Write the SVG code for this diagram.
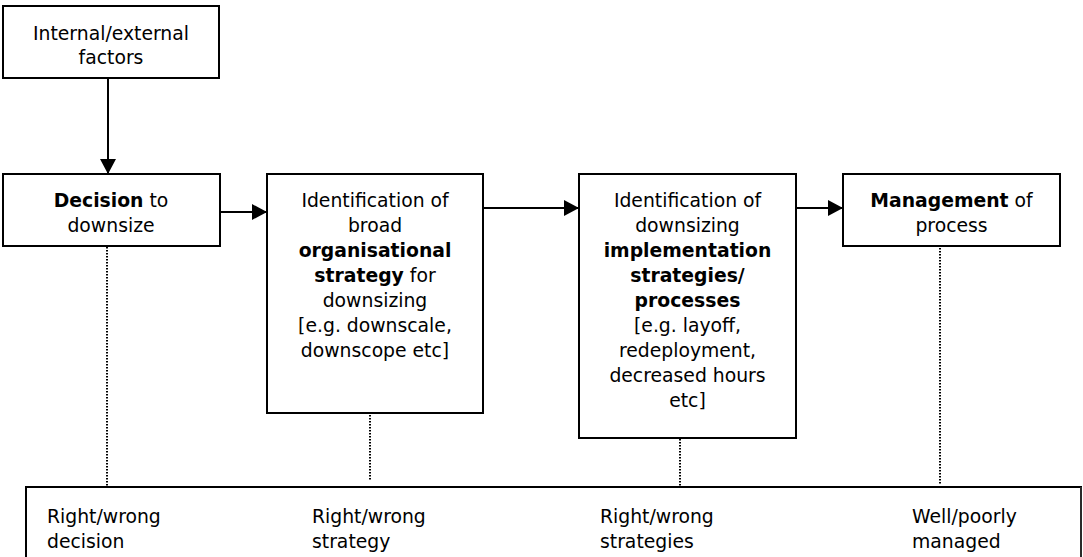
<svg xmlns="http://www.w3.org/2000/svg" width="1083" height="557" viewBox="0 0 1083 557">
  <style>
    .box { fill: #ffffff; stroke: #000000; stroke-width: 2; }
    .txt { font-family: Tahoma, "DejaVu Sans", sans-serif; font-size: 18.8px; fill: #000000; }
    .c { text-anchor: middle; }
    .b { font-weight: bold; }
    .link { stroke: #000000; stroke-width: 2; fill: none; }
    .dot { stroke: #000000; stroke-width: 2; stroke-dasharray: 1.5 1.5; fill: none; }
  </style>
  <defs>
    <marker id="arrow" viewBox="0 0 15 16" refX="15" refY="8" markerWidth="15" markerHeight="16" markerUnits="userSpaceOnUse" orient="auto">
      <path d="M0,0 L15,8 L0,16 Z" fill="#000000"/>
    </marker>
  </defs>

  <rect width="1083" height="557" fill="#ffffff"/>

  <!-- outcome band along the bottom -->
  <g id="outcomes">
    <path d="M26,557 V487 H1081 V557" fill="#ffffff" stroke="#000000" stroke-width="2"/>
    <line x1="1081" y1="487" x2="1081" y2="557" stroke="#555555" stroke-width="1"/>
    <text class="txt" x="47" y="523">Right/wrong</text>
    <text class="txt" x="47" y="548">decision</text>
    <text class="txt" x="312" y="523">Right/wrong</text>
    <text class="txt" x="312" y="548">strategy</text>
    <text class="txt" x="600" y="523">Right/wrong</text>
    <text class="txt" x="600" y="548">strategies</text>
    <text class="txt" x="912" y="523">Well/poorly</text>
    <text class="txt" x="912" y="548">managed</text>
  </g>

  <!-- connectors -->
  <g id="connectors">
    <line class="link" x1="108" y1="78" x2="108" y2="174" marker-end="url(#arrow)"/>
    <line class="link" x1="220" y1="212" x2="267" y2="212" marker-end="url(#arrow)"/>
    <line class="link" x1="483" y1="208" x2="579" y2="208" marker-end="url(#arrow)"/>
    <line class="link" x1="796" y1="208" x2="843" y2="208" marker-end="url(#arrow)"/>
    <line class="dot" x1="107" y1="247" x2="107" y2="486"/>
    <line class="dot" x1="370" y1="415" x2="370" y2="481"/>
    <line class="dot" x1="680" y1="439" x2="680" y2="486"/>
    <line class="dot" x1="940" y1="248" x2="940" y2="484"/>
  </g>

  <g id="factors">
    <rect class="box" x="3" y="6" width="216" height="72"/>
    <text class="txt c" x="111" y="40">Internal/external</text>
    <text class="txt c" x="111" y="64">factors</text>
  </g>

  <g id="decision">
    <rect class="box" x="3" y="174" width="217" height="72"/>
    <text class="txt c" x="111" y="207"><tspan class="b">Decision</tspan> to</text>
    <text class="txt c" x="111" y="232">downsize</text>
  </g>

  <g id="org-strategy">
    <rect class="box" x="267" y="174" width="216" height="239"/>
    <text class="txt c" x="375" y="207">Identification of</text>
    <text class="txt c" x="375" y="232">broad</text>
    <text class="txt c b" x="375" y="257">organisational</text>
    <text class="txt c" x="375" y="282"><tspan class="b">strategy</tspan> for</text>
    <text class="txt c" x="375" y="307">downsizing</text>
    <text class="txt c" x="375" y="332">[e.g. downscale,</text>
    <text class="txt c" x="375" y="357">downscope etc]</text>
  </g>

  <g id="implementation">
    <rect class="box" x="579" y="174" width="217" height="264"/>
    <text class="txt c" x="687.5" y="207">Identification of</text>
    <text class="txt c" x="687.5" y="232">downsizing</text>
    <text class="txt c b" x="687.5" y="257">implementation</text>
    <text class="txt c b" x="687.5" y="282">strategies/</text>
    <text class="txt c b" x="687.5" y="307">processes</text>
    <text class="txt c" x="687.5" y="332">[e.g. layoff,</text>
    <text class="txt c" x="687.5" y="357">redeployment,</text>
    <text class="txt c" x="687.5" y="382">decreased hours</text>
    <text class="txt c" x="687.5" y="407">etc]</text>
  </g>

  <g id="management">
    <rect class="box" x="843" y="174" width="217" height="72"/>
    <text class="txt c" x="951.5" y="207"><tspan class="b">Management</tspan> of</text>
    <text class="txt c" x="951.5" y="232">process</text>
  </g>
</svg>
